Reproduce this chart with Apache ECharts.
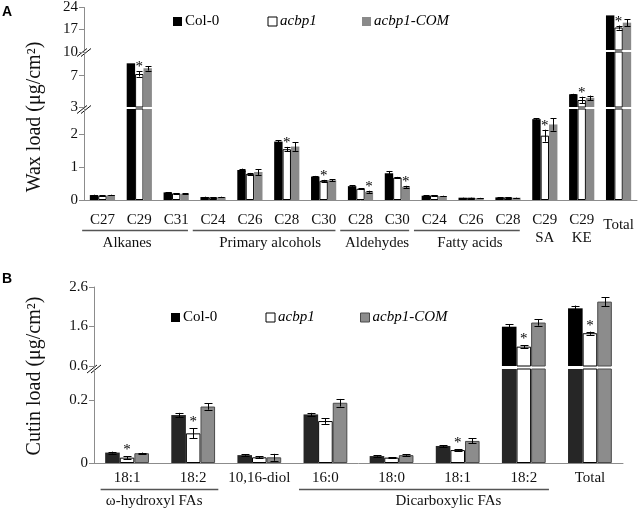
<!DOCTYPE html>
<html><head><meta charset="utf-8">
<script src="https://cdn.jsdelivr.net/npm/echarts@6/dist/echarts.min.js"></script>
<style>html,body{margin:0;padding:0;background:#fff}#c{width:640px;height:508px}</style>
</head><body><div id="c"></div>
<script>
// ---------------- DATA ----------------
const seriesNames = ['Col-0', 'acbp1', 'acbp1-COM'];

// Panel A: wax load (µg/cm²)
const catsA = ['alk_C27','alk_C29','alk_C31','pa_C24','pa_C26','pa_C28','pa_C30','ald_C28','ald_C30','fa_C24','fa_C26','fa_C28','C29_SA','C29_KE','Total'];
const tickLabelsA = ['C27','C29','C31','C24','C26','C28','C30','C28','C30','C24','C26','C28','C29\nSA','C29\nKE','Total'];
const col0A   = [0.15, 8.56, 0.23, 0.09, 0.91, 1.77, 0.71, 0.42, 0.81, 0.13, 0.07, 0.08, 2.45, 4.62, 21.4];
const acbp1A  = [0.13, 7.20, 0.20, 0.08, 0.79, 1.54, 0.58, 0.34, 0.68, 0.14, 0.07, 0.08, 1.95, 3.89, 17.4];
const comA    = [0.15, 7.93, 0.19, 0.09, 0.85, 1.62, 0.60, 0.25, 0.40, 0.12, 0.06, 0.07, 2.29, 4.17, 19.0];
const col0AErr  = [0.01, 0, 0.01, 0.01, 0.04, 0.04, 0.02, 0.02, 0.07, 0.01, 0.005, 0.005, 0.03, 0.06, 0];
const acbp1AErr = [0.01, 0.32, 0.01, 0.01, 0.03, 0.07, 0.03, 0.02, 0.02, 0.01, 0.005, 0.005, 0.18, 0.42, 0.65];
const comAErr   = [0.01, 0.29, 0.01, 0.01, 0.09, 0.13, 0.03, 0.03, 0.03, 0.01, 0.005, 0.005, 0.19, 0.28, 1.2];
const starsA = [[1,1],[5,1],[6,1],[7,2],[8,2],[12,1],[13,1],[14,1]]; // [category, series]
const groupsA = [['Alkanes',0,2],['Primary alcohols',3,6],['Aldehydes',7,8],['Fatty acids',9,11]];
const yTicksA = [[0,1,2],[3,7,10],[17,24]];

// Panel B: cutin load (µg/cm²)
const catsB = ['oh_181','oh_182','diol','dca_160','dca_180','dca_181','dca_182','Total'];
const tickLabelsB = ['18:1','18:2','10,16-diol','16:0','18:0','18:1','18:2','Total'];
const col0B   = [0.033, 0.152, 0.025, 0.154, 0.022, 0.054, 1.595, 2.06];
const acbp1B  = [0.017, 0.094, 0.018, 0.133, 0.017, 0.041, 1.09, 1.43];
const comB    = [0.031, 0.179, 0.018, 0.191, 0.025, 0.070, 1.70, 2.23];
const col0BErr  = [0.003, 0.007, 0.002, 0.005, 0.002, 0.003, 0.06, 0.07];
const acbp1BErr = [0.004, 0.016, 0.003, 0.009, 0.002, 0.002, 0.04, 0.04];
const comBErr   = [0.002, 0.010, 0.011, 0.012, 0.002, 0.008, 0.08, 0.11];
const starsB = [[0,1],[1,1],[5,1],[6,1],[7,1]];
const groupsB = [['ω-hydroxyl FAs',0,1],['Dicarboxylic FAs',3,6]];
const yTicksB = [[0,0.2],[0.6,1.6,2.6]];

// ---------------- LAYOUT / STYLE ----------------
const SERIF = '"Liberation Serif","Times New Roman",serif';
const panels = [
  { letter:'A', title:'Wax load (μg/cm²)', titleX:35, titleY:117, letterY:5,
    cats:catsA, labels:tickLabelsA, vals:[col0A,acbp1A,comA], errs:[col0AErr,acbp1AErr,comAErr],
    stars:starsA, groups:groupsA, groupPos:[0.67,4.55,7.45,9.97], ulIn:[0.55,0.32],
    left:84, right:3, bw:8.4, cap:3, starOff:4, labelMargin:11, ulOff:29.5, glOff:43.5,
    legendLeft:168, legendTop:9, legendStep:94.5,
    segs:[{min:0,max:2.758,top:109,height:91},{min:3,max:10,top:52,height:55},{min:10,max:24,top:7,height:43}],
    ticks:yTicksA,
    colors:(k,si)=>[{color:'#000'},{color:'#fff',borderColor:'#000',borderWidth:1},{color:'#8a8a8a'}][k] },
  { letter:'B', title:'Cutin load (μg/cm²)', titleX:35, titleY:376, letterY:272,
    cats:catsB, labels:tickLabelsB, vals:[col0B,acbp1B,comB], errs:[col0BErr,acbp1BErr,comBErr],
    stars:starsB, groups:groupsB, groupPos:[0.41,4.86], ulIn:[0.4,0.38],
    left:94, right:17, bw:14.6, cap:4, starOff:6, labelMargin:6, ulOff:25.5, glOff:38,
    legendLeft:166, legendTop:305, legendStep:94.5,
    segs:[{min:0,max:0.298,top:369,height:94},{min:0.6,max:2.6,top:287,height:79}],
    ticks:yTicksB,
    colors:(k,si)=>[{color: si===0?'#262626':'#000'},{color:'#fff',borderColor:'#000',borderWidth:1},{color:'#8c8c8c',borderColor:'#4a4a4a',borderWidth:1}][k] }
];

const grid=[], xAxis=[], yAxis=[], series=[], legend=[];
const axisColor = '#8c8c8c';

panels.forEach(p => {
  p.g = [];
  const starSet = new Set(p.stars.map(s => s[0]+'_'+s[1]));
  const errData = [];
  for (let k=0;k<3;k++) for (let i=0;i<p.cats.length;i++)
    errData.push([i, k, p.vals[k][i], p.errs[k][i], starSet.has(i+'_'+k)?1:0]);

  p.segs.forEach((s, si) => {
    const g = grid.length; p.g.push(g);
    grid.push({left:p.left, right:p.right, top:s.top, height:s.height});
    xAxis.push({
      type:'category', gridIndex:g, data:p.cats, show: si===0,
      axisLine:{lineStyle:{color:axisColor}},
      axisTick:{length:4, lineStyle:{color:axisColor}},
      axisLabel:{interval:0, margin:p.labelMargin, fontFamily:SERIF, fontSize:15, color:'#111', lineHeight:18,
        formatter:(v,i)=>{ const t=p.labels[i]; return t==='Total' && p.letter==='A' ? '{t|Total}' : t; },
        rich:{t:{lineHeight:28, fontFamily:SERIF, fontSize:15, color:'#111'}}}
    });
    yAxis.push({
      type:'value', gridIndex:g, min:s.min, max:s.max,
      axisLine:{show:true, lineStyle:{color:axisColor}},
      axisTick:{show:true, length:5, customValues:p.ticks[si], lineStyle:{color:axisColor}},
      axisLabel:{customValues:p.ticks[si], fontFamily:SERIF, fontSize:15, color:'#111', margin:6},
      splitLine:{show:false}
    });
    for (let k=0;k<3;k++) series.push({
      type:'bar', name:seriesNames[k], xAxisIndex:g, yAxisIndex:g, data:p.vals[k],
      barWidth:p.bw, barGap:'0%', itemStyle:p.colors(k,si), animation:false, silent:true
    });
    series.push({
      type:'custom', xAxisIndex:g, yAxisIndex:g, data:errData, animation:false, silent:true, z:5,
      renderItem:(params, api) => {
        const cat=api.value(0), k=api.value(1), v=api.value(2), e=api.value(3), st=api.value(4);
        if (v < s.min || v > s.max) return;
        const x = api.coord([cat, v])[0] + (k-1)*p.bw;
        const xc = Math.round(x)+0.5;
        const ch = [];
        const yT = api.coord([cat, v+e])[1];
        if (e>0){
          const yB = api.coord([cat, v-e])[1];
          const st1={stroke:'#000', lineWidth:1};
          ch.push({type:'line', shape:{x1:xc,y1:yT,x2:xc,y2:yB}, style:st1});
          ch.push({type:'line', shape:{x1:xc-p.cap,y1:Math.round(yT)+0.5,x2:xc+p.cap,y2:Math.round(yT)+0.5}, style:st1});
          ch.push({type:'line', shape:{x1:xc-p.cap,y1:Math.round(yB)+0.5,x2:xc+p.cap,y2:Math.round(yB)+0.5}, style:st1});
        }
        if (st) ch.push({type:'text', style:{text:'*', x:x, y:yT-p.starOff, align:'center', verticalAlign:'middle',
                   fontSize:15, fontFamily:SERIF, fill:'#000'}});
        return {type:'group', children:ch};
      }
    });
  });

  seriesNames.forEach((n,k) => legend.push({
    left:p.legendLeft + k*p.legendStep, top:p.legendTop, itemWidth:9, itemHeight:9, itemGap:0,
    selectedMode:false, icon:'rect',
    data:[{name:n, itemStyle:p.colors(k,1)}],
    textStyle:{fontFamily:SERIF, fontSize:15, color:'#000', fontStyle: k===0 ? 'normal' : 'italic', padding:[0,0,0,-2]}
  }));
});

const chart = echarts.init(document.getElementById('c'));
chart.setOption({animation:false, backgroundColor:'#fff', grid, xAxis, yAxis, series, legend});

// annotations derived from axes
const graphic = [];
panels.forEach(p => {
  const g0 = p.g[0];
  const c0 = chart.convertToPixel({xAxisIndex:g0}, p.cats[0]);
  const c1 = chart.convertToPixel({xAxisIndex:g0}, p.cats[1]);
  const xf = f => c0 + (c1-c0)*f;
  const axisY = chart.convertToPixel({yAxisIndex:g0}, p.segs[0].min);
  p.groups.forEach((gr, j) => {
    const y = Math.round(axisY + p.ulOff) + 0.5;
    graphic.push({type:'line', shape:{x1:xf(gr[1]-p.ulIn[0]), y1:y, x2:xf(gr[2]+p.ulIn[1]), y2:y},
      style:{stroke:'#555', lineWidth:1.6}, silent:true});
    graphic.push({type:'text', x:xf(p.groupPos[j]), y:axisY+p.glOff,
      style:{text:gr[0], align:'center', verticalAlign:'middle', fontFamily:SERIF, fontSize:15, fill:'#111'}, silent:true});
  });
  const ax = xf(-0.5);
  for (let si=1; si<p.segs.length; si++){
    const yLow = chart.convertToPixel({yAxisIndex:p.g[si-1]}, p.segs[si-1].max);
    const yHigh = chart.convertToPixel({yAxisIndex:p.g[si]}, p.segs[si].min);
    const cy = (yLow+yHigh)/2 + 1.5;
    [0,4].forEach(dx => graphic.push({type:'line',
      shape:{x1:ax-7+dx, y1:cy+4, x2:ax+3+dx, y2:cy-4}, style:{stroke:'#111', lineWidth:1}, silent:true}));
  }
  graphic.push({type:'text', x:p.titleX, y:p.titleY, rotation:Math.PI/2,
    style:{text:p.title, align:'center', verticalAlign:'middle', fontFamily:SERIF, fontSize:20, fill:'#111'}, silent:true});
  graphic.push({type:'text', x:2, y:p.letterY,
    style:{text:p.letter, align:'left', verticalAlign:'top', fontFamily:'"Liberation Sans",Arial,sans-serif', fontWeight:'bold', fontSize:14, fill:'#000'}, silent:true});
});
chart.setOption({graphic});
</script>
</body></html>
